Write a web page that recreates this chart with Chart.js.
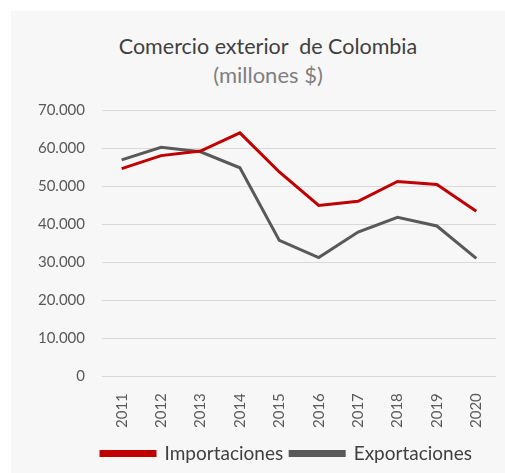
<!DOCTYPE html>
<html>
<head>
<meta charset="utf-8">
<script src="https://cdn.jsdelivr.net/npm/chart.js@4"></script>
<style>
  html, body { margin: 0; padding: 0; background: #fff; }
  #wrap { position: relative; width: 505px; height: 473px; }
  #panel { position: absolute; left: 11px; top: 11px; right: 0; bottom: 0; background: #f7f7f7; }
  #chart { position: absolute; left: 0; top: 0; }
  .title { position: absolute; left: 0; width: 536px; text-align: center; font-family: Lato, "Open Sans", sans-serif; white-space: pre; }
  #t1 { top: 33px; font-size: 21.5px; color: #404040; }
  #t2 { top: 61px; font-size: 22px; color: #7f7f7f; }
</style>
</head>
<body>
<div id="wrap">
  <div id="panel"></div>
  <div class="title" id="t1">Comercio exterior  de Colombia</div>
  <div class="title" id="t2">(millones $)</div>
  <canvas id="chart" width="505" height="473"></canvas>
</div>
<script>
// Years on the x axis
const years = ["2011", "2012", "2013", "2014", "2015", "2016", "2017", "2018", "2019", "2020"];

// Series values (millones $)
const importaciones = [54600, 58000, 59200, 64000, 53700, 44900, 46000, 51200, 50400, 43400];
const exportaciones = [56900, 60200, 59000, 54800, 35700, 31200, 37900, 41800, 39500, 31000];

// Y axis range
const yMin = 0;
const yMax = 70000;
const yStep = 10000;

// the reference legend sits a bit right of the canvas centre
const shiftLegend = {
  id: "shiftLegend",
  afterLayout(chart) {
    chart.legend.left += 25;
    chart.legend.right += 25;
  },
};

const ctx = document.getElementById("chart").getContext("2d");
new Chart(ctx, {
  type: "line",
  data: {
    labels: years,
    datasets: [
      {
        label: "Importaciones",
        data: importaciones,
        borderColor: "#c00000",
        backgroundColor: "#c00000",
        borderWidth: 3,
        pointRadius: 0,
        tension: 0,
      },
      {
        label: "Exportaciones",
        data: exportaciones,
        borderColor: "#595959",
        backgroundColor: "#595959",
        borderWidth: 3,
        pointRadius: 0,
        tension: 0,
      },
    ],
  },
  plugins: [shiftLegend],
  options: {
    responsive: false,
    animation: false,
    layout: { padding: { left: 27, right: 9, top: 110, bottom: 0 } },
    plugins: {
      title: { display: false },
      tooltip: { enabled: false },
      legend: {
        position: "bottom",
        labels: {
          boxWidth: 54,
          boxHeight: 4,
          padding: 7,
          color: "#404040",
          font: { family: "Lato", size: 19 },
        },
      },
    },
    scales: {
      x: {
        offset: true,
        grid: { display: false },
        border: { display: false },
        ticks: {
          minRotation: 90,
          maxRotation: 90,
          padding: 9,
          color: "#595959",
          font: { family: "Lato", size: 15 },
        },
      },
      y: {
        min: yMin,
        max: yMax,
        afterFit: (scale) => { scale.width = 75; },
        border: { display: false },
        grid: { color: "#d9d9d9", lineWidth: 1, drawTicks: false },
        ticks: {
          stepSize: yStep,
          padding: 17,
          color: "#595959",
          font: { family: "Lato", size: 15 },
          callback: (v) => v.toString().replace(/\B(?=(\d{3})+(?!\d))/g, "."),
        },
      },
    },
  },
});
</script>
</body>
</html>
